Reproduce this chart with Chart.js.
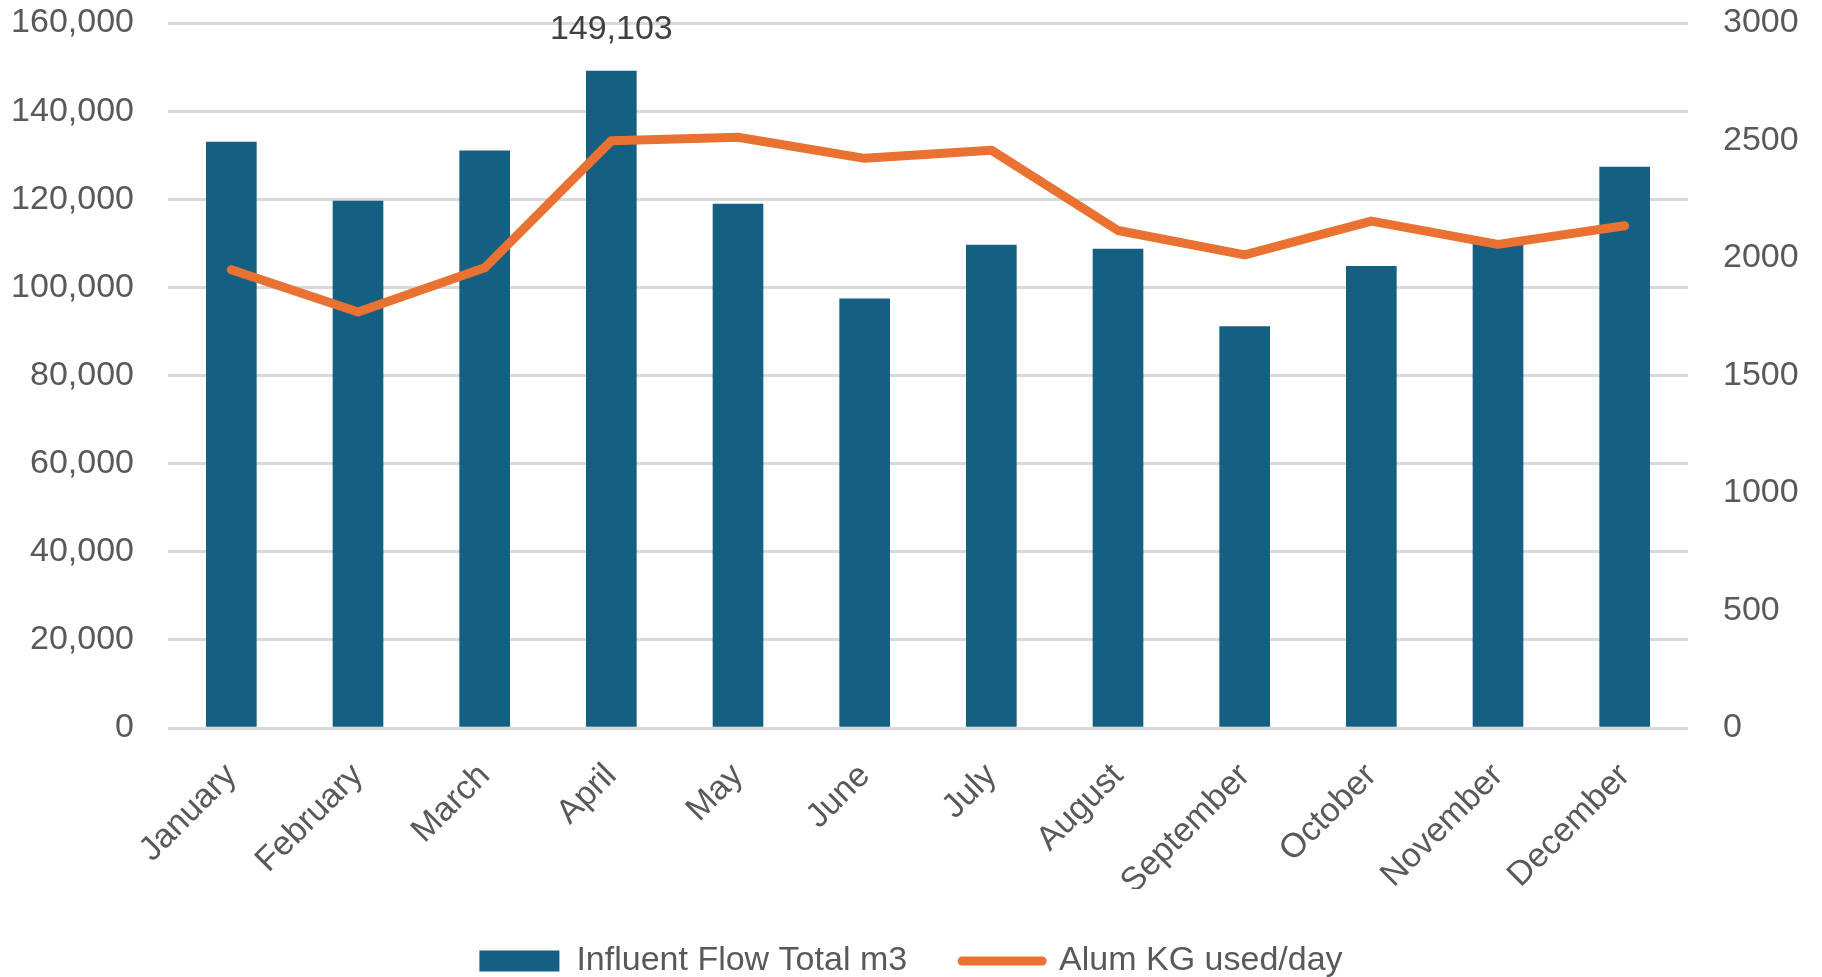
<!DOCTYPE html>
<html>
<head>
<meta charset="utf-8">
<script src="https://cdn.jsdelivr.net/npm/chart.js@4/dist/chart.umd.min.js"></script>
<style>
  html, body { margin: 0; padding: 0; background: #fff; }
  #wrap { width: 1822px; height: 977px; }
</style>
</head>
<body>
<div id="wrap"><canvas id="flowChart"></canvas></div>
<script>
const months = ["January", "February", "March", "April", "May", "June",
  "July", "August", "September", "October", "November", "December"];
const influentFlow = [133000, 119600, 131000, 149103, 118900, 97400,
  109600, 108700, 91100, 104800, 110600, 127300];
const alumPerDay = [1950, 1770, 1958, 2499, 2514, 2424,
  2459, 2117, 2013, 2157, 2058, 2137];
const leftTicks = [0, 20000, 40000, 60000, 80000, 100000, 120000, 140000, 160000];
const rightTicks = [0, 500, 1000, 1500, 2000, 2500, 3000];
const labelledBar = 3;

const FONT = "'Liberation Sans', Arial, sans-serif";
const FSIZE = 34;
const GREY = "#595959";

// value label above the April bar
const barLabel = {
  id: "barLabel",
  afterDatasetsDraw(chart) {
    const bar = chart.getDatasetMeta(0).data[labelledBar];
    const ctx = chart.ctx;
    ctx.save();
    ctx.font = FSIZE + "px " + FONT;
    ctx.fillStyle = "#404040";
    ctx.textAlign = "center";
    ctx.textBaseline = "middle";
    ctx.fillText(influentFlow[labelledBar].toLocaleString("en-US"), bar.x, bar.y - 41);
    ctx.restore();
  },
};

// y axes: fixed width, and no extra top/bottom padding from tick padding
function fitSide(width) {
  return function (scale) {
    scale.width = width;
    scale.paddingTop = 23;
    scale.paddingBottom = 0;
  };
}

document.addEventListener("DOMContentLoaded", function () {
  const ctx = document.getElementById("flowChart").getContext("2d");
  new Chart(ctx, {
    data: {
      labels: months,
      datasets: [
        {
          type: "bar",
          label: "Influent Flow Total m3",
          data: influentFlow,
          backgroundColor: "#156082",
          barThickness: 50,
          yAxisID: "y",
          order: 1,
        },
        {
          type: "line",
          label: "Alum KG used/day",
          data: alumPerDay,
          borderColor: "#E97132",
          backgroundColor: "#E97132",
          borderWidth: 9,
          borderCapStyle: "round",
          borderJoinStyle: "round",
          pointRadius: 0,
          tension: 0,
          yAxisID: "y1",
          order: 0,
        },
      ],
    },
    options: {
      responsive: true,
      maintainAspectRatio: false,
      animation: false,
      layout: { padding: { top: 0, left: 0, right: 0, bottom: -11 } },
      plugins: {
        tooltip: { enabled: false },
        legend: {
          position: "bottom",
          sort: (a, b) => a.datasetIndex - b.datasetIndex,
          labels: {
            color: GREY,
            font: { family: FONT, size: FSIZE },
            usePointStyle: true,
            pointStyleWidth: 80,
            boxHeight: 21,
            padding: 55,
            generateLabels(chart) {
              return chart.data.datasets.map((ds, i) => ({
                text: ds.label,
                datasetIndex: i,
                fillStyle: ds.backgroundColor,
                strokeStyle: ds.borderColor || ds.backgroundColor,
                lineWidth: ds.type === "line" ? 9 : 0,
                lineCap: "round",
                pointStyle: ds.type === "line" ? "line" : "rect",
                fontColor: GREY,
                hidden: false,
              }));
            },
          },
        },
      },
      scales: {
        x: {
          grid: { display: false },
          border: { display: false },
          ticks: {
            color: GREY,
            font: { family: FONT, size: FSIZE },
            maxRotation: 45,
            minRotation: 45,
            padding: 20,
          },
          afterFit(scale) { scale.height = 161; },
        },
        y: {
          position: "left",
          min: 0,
          max: 160000,
          afterBuildTicks(scale) { scale.ticks = leftTicks.map(v => ({ value: v })); },
          grid: { color: "#d9d9d9", lineWidth: 3, drawTicks: false },
          border: { display: false },
          ticks: {
            color: GREY,
            font: { family: FONT, size: FSIZE },
            padding: 34,
            callback: v => v.toLocaleString("en-US"),
          },
          afterFit: fitSide(168),
        },
        y1: {
          position: "right",
          min: 0,
          max: 3000,
          afterBuildTicks(scale) { scale.ticks = rightTicks.map(v => ({ value: v })); },
          grid: { display: false, drawTicks: false },
          border: { display: false },
          ticks: {
            color: GREY,
            font: { family: FONT, size: FSIZE },
            padding: 35,
            callback: v => String(v),
          },
          afterFit: fitSide(134),
        },
      },
    },
    plugins: [barLabel],
  });
});
</script>
</body>
</html>
